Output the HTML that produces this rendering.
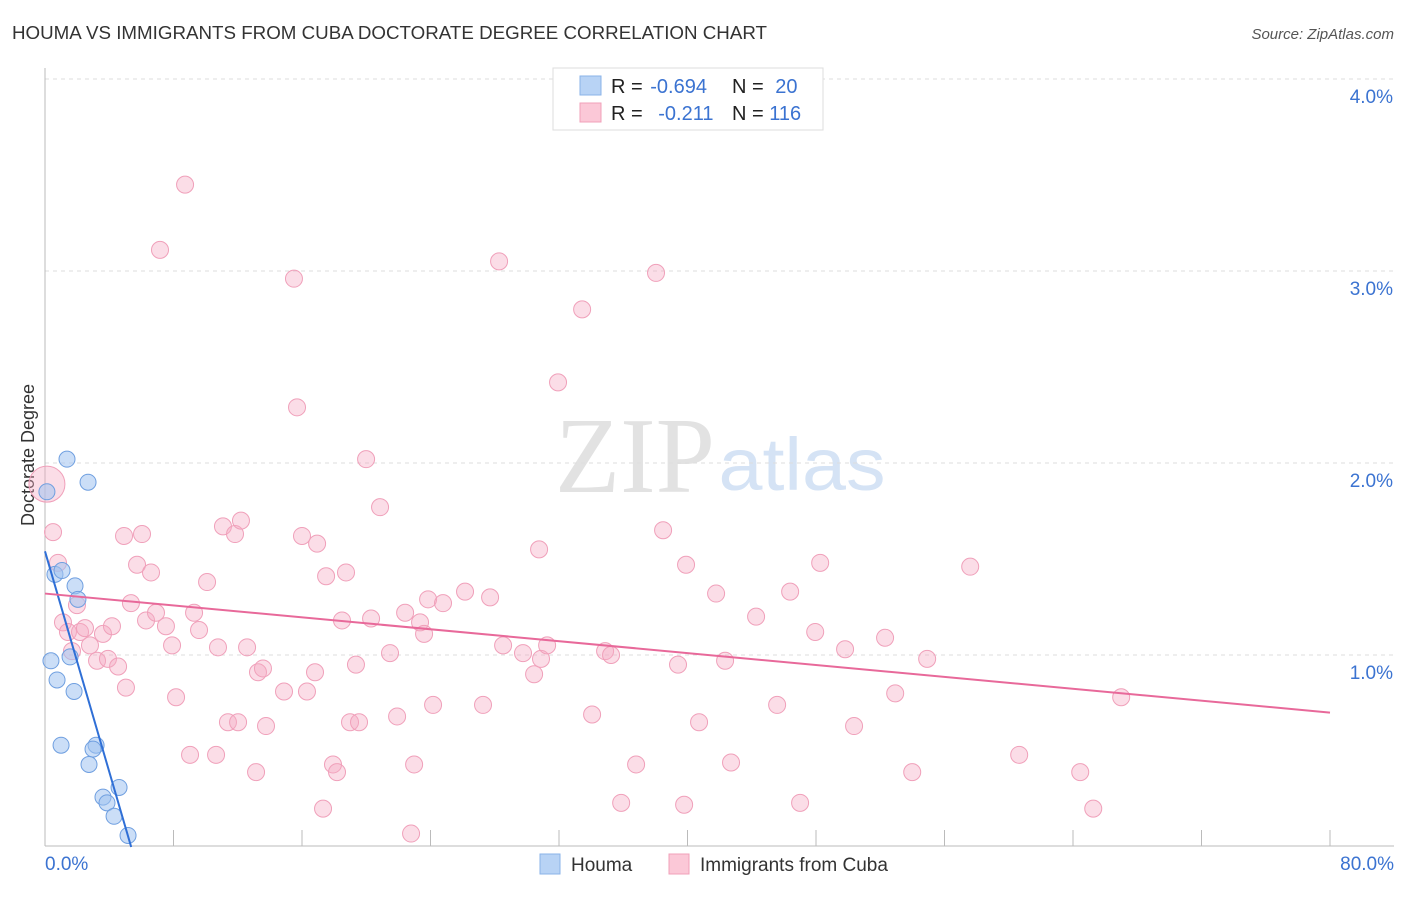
<!DOCTYPE html>
<html><head><meta charset="utf-8"><style>
body{margin:0;background:#fff;font-family:"Liberation Sans",sans-serif;}
svg text{font-family:"Liberation Sans",sans-serif;}
</style></head><body>
<svg id="chart" width="1406" height="892" xmlns="http://www.w3.org/2000/svg">
<text x="12" y="39" font-size="18" fill="#333" textLength="755" lengthAdjust="spacingAndGlyphs">HOUMA VS IMMIGRANTS FROM CUBA DOCTORATE DEGREE CORRELATION CHART</text>
<text x="1394" y="39" font-size="15" fill="#555" text-anchor="end" font-style="italic">Source: ZipAtlas.com</text>
<text x="34" y="455" font-size="18" fill="#333" text-anchor="middle" transform="rotate(-90 34 455)">Doctorate Degree</text>
<g>
<text x="635" y="492" font-size="108" fill="#e2e2e2" text-anchor="middle" style="font-family:'Liberation Serif',serif" textLength="160" lengthAdjust="spacingAndGlyphs">ZIP</text>
<text x="802" y="490" font-size="74" fill="#d5e3f5" text-anchor="middle" textLength="167" lengthAdjust="spacingAndGlyphs">atlas</text>
</g>
<g id="grid"></g><g id="axes"></g><g id="pts"></g><g id="lines"></g>
<g>
<rect x="553" y="68" width="270" height="62" fill="#fff" stroke="#ddd"/>
<rect x="580" y="76" width="21" height="19" fill="#b8d3f5" stroke="#8ab3e8"/>
<rect x="580" y="103" width="21" height="19" fill="#fbc8d7" stroke="#f0a0ba"/>
<text x="611" y="93" font-size="20" fill="#222">R = <tspan fill="#3b73d1" dx="2">-0.694</tspan></text>
<text x="732" y="93" font-size="20" fill="#222">N = <tspan fill="#3b73d1" dx="6">20</tspan></text>
<text x="611" y="120" font-size="20" fill="#222">R = <tspan fill="#3b73d1" dx="10">-0.211</tspan></text>
<text x="732" y="120" font-size="20" fill="#222">N = <tspan fill="#3b73d1">116</tspan></text>
</g>
<g>
<rect x="540" y="854" width="20" height="20" fill="#b8d3f5" stroke="#8ab3e8"/>
<text x="571" y="871" font-size="19" fill="#333">Houma</text>
<rect x="669" y="854" width="20" height="20" fill="#fbc8d7" stroke="#f0a0ba"/>
<text x="700" y="871" font-size="19" fill="#333">Immigrants from Cuba</text>
</g>
</svg>
<script>
const yTicks=[1,2,3,4];
const xTickLabels=["0.0%","80.0%"];
const houmaX=[0.12,1.37,2.68,0.62,1.06,1.87,2.05,0.37,1.56,0.75,1.81,1.0,3.18,2.99,2.74,4.61,3.61,3.86,4.30,5.17];
const houmaY=[1.85,2.02,1.90,1.42,1.44,1.36,1.29,0.97,0.99,0.87,0.81,0.53,0.53,0.51,0.43,0.31,0.26,0.23,0.16,0.06];
const cubaX=[0.12,0.50,0.81,1.12,1.43,1.68,1.99,2.18,2.49,2.80,3.24,3.61,3.92,4.17,4.55,5.04,4.92,5.35,5.73,6.04,6.60,6.29,6.91,7.53,7.91,8.16,7.16,8.72,9.03,9.28,9.59,10.09,10.65,10.77,11.08,11.39,11.83,12.02,12.20,12.58,13.14,13.26,13.57,13.76,14.88,15.50,15.69,16.00,16.31,16.81,16.94,17.31,17.50,17.93,18.18,18.49,18.74,18.99,19.55,19.36,19.99,20.30,20.86,21.48,21.92,22.42,22.79,22.98,23.35,23.60,23.85,24.16,24.78,26.15,27.27,27.71,28.27,28.52,29.76,30.45,30.76,30.88,31.26,31.94,34.06,33.44,34.87,35.24,35.87,36.80,38.04,38.48,39.41,39.79,39.91,40.72,41.78,42.34,42.71,44.27,45.58,46.39,47.01,47.95,48.26,49.81,50.37,52.30,52.93,53.99,54.92,57.60,60.65,64.45,65.26,67.00];
const cubaY=[1.89,1.64,1.48,1.17,1.12,1.02,1.26,1.12,1.14,1.05,0.97,1.11,0.98,1.15,0.94,0.83,1.62,1.27,1.47,1.63,1.43,1.18,1.22,1.15,1.05,0.78,3.11,3.45,0.48,1.22,1.13,1.38,0.48,1.04,1.67,0.65,1.63,0.65,1.70,1.04,0.39,0.91,0.93,0.63,0.81,2.96,2.29,1.62,0.81,0.91,1.58,0.20,1.41,0.43,0.39,1.18,1.43,0.65,0.65,0.95,2.02,1.19,1.77,1.01,0.68,1.22,0.07,0.43,1.17,1.11,1.29,0.74,1.27,1.33,0.74,1.30,3.05,1.05,1.01,0.90,1.55,0.98,1.05,2.42,0.69,2.80,1.02,1.00,0.23,0.43,2.99,1.65,0.95,0.22,1.47,0.65,1.32,0.97,0.44,1.20,0.74,1.33,0.23,1.12,1.48,1.03,0.63,1.09,0.80,0.39,0.98,1.46,0.48,0.39,0.20,0.78];
const houmaTrend=[1.54,-0.287];
const cubaTrend=[1.32,-0.00775];
const NS="http://www.w3.org/2000/svg";
const sx=v=>45+v/80*1285;
const sy=v=>847-v*192;
function mk(tag,attrs,parent){const e=document.createElementNS(NS,tag);for(const k in attrs)e.setAttribute(k,attrs[k]);document.getElementById(parent).appendChild(e);return e;}
yTicks.forEach(t=>{
  const l=mk('line',{x1:45,x2:1394,y1:sy(t),y2:sy(t),stroke:'#ddd','stroke-dasharray':'4,4'},'grid');
  
  
  const tx=mk('text',{x:1393,y:sy(t)+24,'font-size':19,fill:'#3b73d1','text-anchor':'end'},'grid');
  tx.textContent=t.toFixed(1)+'%';
  
  
});
const ax=mk('line',{x1:45,x2:1394,y1:846,y2:846,stroke:'#bbb'},'axes');


const ay=mk('line',{x1:45,x2:45,y1:68,y2:846,stroke:'#bbb'},'axes');


for(let i=0;i<=10;i++){
  const tk=mk('line',{x1:sx(i*8),x2:sx(i*8),y1:830,y2:846,stroke:'#bbb'},'axes');
  
  
}
[[0,'start',45],[80,'end',1394]].forEach((d,i)=>{
  const t=mk('text',{x:d[2],y:870,'font-size':19,fill:'#3b73d1','text-anchor':d[1]},'axes');
  t.textContent=xTickLabels[i];
  
  
});
cubaX.forEach((x,i)=>{
  const c=mk('circle',{cx:sx(x),cy:sy(cubaY[i]),r:i===0?18:8.5,fill:'rgba(246,170,195,0.4)',stroke:'#f0a0ba','stroke-width':1},'pts');
  
  
});
houmaX.forEach((x,i)=>{
  const c=mk('circle',{cx:sx(x),cy:sy(houmaY[i]),r:8,fill:'rgba(160,195,240,0.55)',stroke:'#6f9fe0','stroke-width':1},'pts');
  
  
});
const hEnd=-houmaTrend[0]/houmaTrend[1];
const hl=mk('line',{x1:sx(0),y1:sy(houmaTrend[0]),x2:sx(hEnd),y2:sy(0),stroke:'#2f6fd6','stroke-width':2},'lines');


const cl=mk('line',{x1:sx(0),y1:sy(cubaTrend[0]),x2:sx(80),y2:sy(cubaTrend[0]+cubaTrend[1]*80),stroke:'#e8699a','stroke-width':2},'lines');


</script>
</body></html>
